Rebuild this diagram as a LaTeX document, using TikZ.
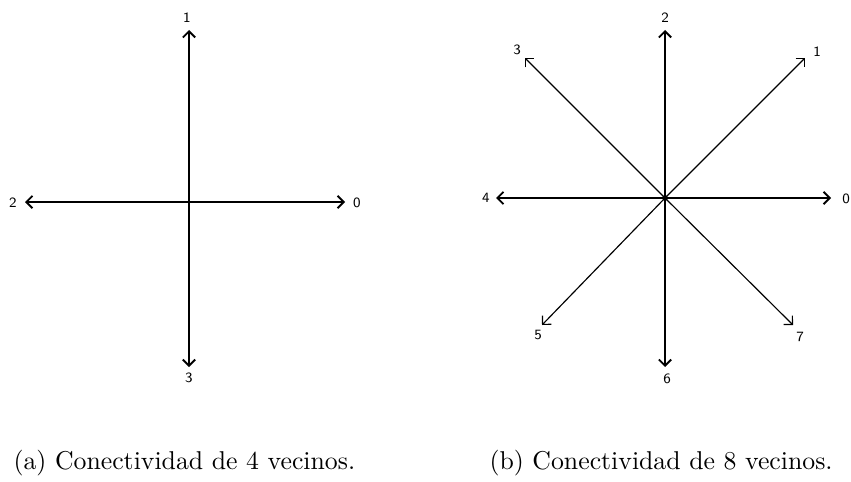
\documentclass[tikz,border=0pt]{standalone}
\usetikzlibrary{arrows.meta}
\begin{document}
\begin{tikzpicture}[x=0.388pt,y=-0.388pt,
	dir/.style={line width=0.7pt,-{Straight Barb[length=2.4pt,width=4.8pt]}},
	diag/.style={line width=0.45pt,-{Straight Barb[length=2.4pt,width=4.8pt]}},
	lab/.style={font=\sffamily\fontsize{5.5}{6}\selectfont,inner sep=0pt}]
	\useasboundingbox (0,0) rectangle (851,481);
	
	% 4 vecinos
	\coordinate (c4) at (189,202);
	\coordinate (a0) at (345,202);
	\coordinate (a1) at (189,30);
	\coordinate (a2) at (25,202);
	\coordinate (a3) at (189,367);
	\draw[dir] (c4) -- (a0);
	\draw[dir] (c4) -- (a1);
	\draw[dir] (c4) -- (a2);
	\draw[dir] (c4) -- (a3);
	\node[lab] (la0) at (357,203) {0};
	\node[lab] (la1) at (187,18) {1};
	\node[lab] (la2) at (13,203) {2};
	\node[lab] (la3) at (189,378) {3};
	
	% 8 vecinos
	\coordinate (c8) at (665,198);
	\coordinate (b0) at (831,198);
	\coordinate (b1) at (805,58);
	\coordinate (b2) at (665,30);
	\coordinate (b3) at (525,58);
	\coordinate (b4) at (496,198);
	\coordinate (b5) at (542,325);
	\coordinate (b6) at (665,367);
	\coordinate (b7) at (793,325);
	\draw[dir] (c8) -- (b0);
	\draw[diag] (c8) -- (b1);
	\draw[dir] (c8) -- (b2);
	\draw[diag] (c8) -- (b3);
	\draw[dir] (c8) -- (b4);
	\draw[diag] (c8) -- (b5);
	\draw[dir] (c8) -- (b6);
	\draw[diag] (c8) -- (b7);
	\draw[fill=black] (c8) circle (0.9pt);
	\node[lab] (lb0) at (846,199) {0};
	\node[lab] (lb1) at (817,52) {1};
	\node[lab] (lb2) at (665,18) {2};
	\node[lab] (lb3) at (517,50) {3};
	\node[lab] (lb4) at (486,198) {4};
	\node[lab] (lb5) at (538,335) {5};
	\node[lab] (lb6) at (667,379) {6};
	\node[lab] (lb7) at (800,337) {7};
	
	\node[anchor=base west,inner sep=0pt] (capa) at (13,469) {(a) Conectividad de 4 vecinos.};
	\node[anchor=base west,inner sep=0pt] (capb) at (489,469) {(b) Conectividad de 8 vecinos.};
\end{tikzpicture}
\end{document}
